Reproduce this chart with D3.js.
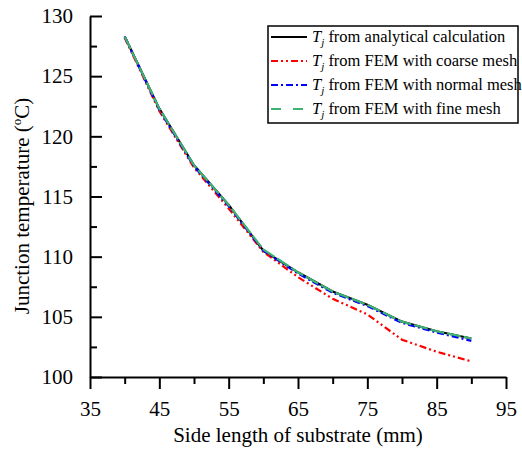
<!DOCTYPE html>
<html>
<head>
<meta charset="utf-8">
<script src="https://cdn.jsdelivr.net/npm/d3@7"></script>
<style>
  body { margin: 0; background: #fff; }
</style>
</head>
<body>
<div id="chart"></div>
<script>
// side length of substrate (mm)
var sideLength = [40, 45, 50, 55, 60, 65, 70, 75, 80, 85, 90];
// junction temperature series (degC)
var analytical = [128.3, 122.3, 117.6, 114.3, 110.5, 108.7, 107.1, 106.0, 104.6, 103.8, 103.2];
var coarseMesh = [128.2, 122.1, 117.4, 114.0, 110.4, 108.3, 106.5, 105.2, 103.1, 102.1, 101.3];
var normalMesh = [128.3, 122.2, 117.5, 114.2, 110.5, 108.6, 107.0, 105.9, 104.5, 103.7, 103.0];
var fineMesh   = [128.3, 122.3, 117.6, 114.3, 110.6, 108.7, 107.1, 106.0, 104.6, 103.8, 103.2];

var xTicks = [35, 45, 55, 65, 75, 85, 95];
var xMinor = [40, 50, 60, 70, 80, 90];
var yTicks = [100, 105, 110, 115, 120, 125, 130];
var yMinor = [102.5, 107.5, 112.5, 117.5, 122.5, 127.5];

var seriesNames = ["from analytical calculation", "from FEM with coarse mesh",
                   "from FEM with normal mesh", "from FEM with fine mesh"];

var serif = "'Liberation Serif', 'Times New Roman', serif";
var margin = {top: 16, right: 16, bottom: 73, left: 90};

var svg = d3.select("#chart")
  .append("svg")
    .attr("width", 522)
    .attr("height", 450)
    .style("font-family", serif)
  .append("g")
    .attr("transform", "translate(" + margin.left + "," + margin.top + ")");

var x = d3.scaleLinear().domain([35, 95]).range([0, 416]);
var y = d3.scaleLinear().domain([100, 130]).range([361, 0]);

// x axis
var gx = svg.append("g")
  .attr("transform", "translate(0," + y(100) + ")")
  .call(d3.axisBottom(x).tickValues(xTicks).tickSizeInner(12).tickSizeOuter(0).tickPadding(4));
svg.append("g")
  .attr("transform", "translate(0," + y(100) + ")")
  .call(d3.axisBottom(x).tickValues(xMinor).tickSizeInner(7).tickSizeOuter(0).tickFormat(""))
  .select(".domain").remove();

// y axis (ticks pointing in)
var gy = svg.append("g")
  .call(d3.axisLeft(y).tickValues(yTicks).tickSizeInner(-12).tickSizeOuter(0).tickPadding(17));
svg.append("g")
  .call(d3.axisLeft(y).tickValues(yMinor).tickSizeInner(-7).tickSizeOuter(0).tickFormat(""))
  .select(".domain").remove();

svg.selectAll("g").attr("font-family", null);
svg.selectAll(".tick line, .domain").attr("stroke", "#000").attr("stroke-width", 2);
svg.selectAll(".tick text")
  .style("font-family", serif)
  .attr("font-size", 21)
  .attr("fill", "#000");
gx.selectAll(".tick text").attr("dy", "0.71em").attr("y", 24);

svg.append("text")
  .attr("x", 208)
  .attr("y", 426)
  .style("text-anchor", "middle")
  .style("font-family", serif)
  .attr("font-size", 21)
  .text("Side length of substrate (mm)");

var yTitle = svg.append("text")
  .attr("transform", "rotate(-90)")
  .attr("x", -190)
  .attr("y", -61)
  .style("text-anchor", "middle")
  .style("font-family", serif)
  .attr("font-size", 21);
yTitle.append("tspan").text("Junction temperature (");
yTitle.append("tspan").attr("font-size", 13).attr("dy", -8).text("o");
yTitle.append("tspan").attr("dy", 8).text("C)");

var styles = [
  {color: "#000000", dash: null, legendDash: null},
  {color: "#ff0000", dash: "7,3,2,3,2,3", legendDash: "7,3,2,3,2,3"},
  {color: "#0000ff", dash: "7,3,2,3", legendDash: "7,3,2,3"},
  {color: "#3cb371", dash: "14,3", legendDash: "10,12"}
];
var allSeries = [analytical, coarseMesh, normalMesh, fineMesh];

var line = d3.line()
  .x(function(d, i) { return x(sideLength[i]); })
  .y(function(d) { return y(d); });

allSeries.forEach(function(s, k) {
  svg.append("path")
    .datum(s)
    .attr("fill", "none")
    .attr("stroke", styles[k].color)
    .attr("stroke-width", 2.2)
    .attr("stroke-dasharray", styles[k].dash)
    .attr("d", line);
});

// legend
var legend = svg.append("g").attr("transform", "translate(178,10)");
legend.append("rect")
  .attr("width", 250)
  .attr("height", 97)
  .attr("fill", "#fff")
  .attr("stroke", "#000")
  .attr("stroke-width", 1.5);

seriesNames.forEach(function(name, k) {
  var ly = 11 + k * 24;
  legend.append("line")
    .attr("x1", 3).attr("x2", 39)
    .attr("y1", ly).attr("y2", ly)
    .attr("stroke", styles[k].color)
    .attr("stroke-width", 2.2)
    .attr("stroke-dasharray", styles[k].legendDash);
  var t = legend.append("text")
    .attr("x", 44)
    .attr("y", ly + 5)
    .style("font-family", serif)
    .attr("font-size", 16.5);
  t.append("tspan").attr("font-style", "italic").text("T");
  t.append("tspan").attr("font-style", "italic").attr("font-size", 11).attr("dy", 4).text("j");
  t.append("tspan").attr("dy", -4).text(" " + name);
});
</script>
</body>
</html>
